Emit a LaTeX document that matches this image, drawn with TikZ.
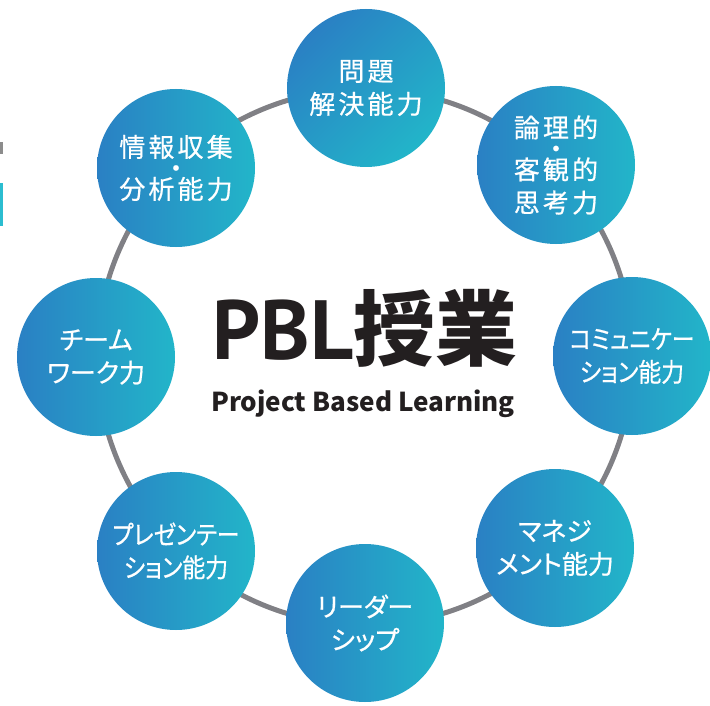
\documentclass[tikz,border=0pt]{standalone}
\usepackage{fontspec}
\newfontfamily\jpt[LetterSpace=12,FakeBold=0.6]{Noto Sans CJK JP}
\newfontfamily\jpp[RawFeature=+palt,FakeBold=0.6]{Noto Sans CJK JP}
\newfontfamily\jpb{Noto Sans CJK JP}
\newfontfamily\latb{PT Sans}
\newcommand{\kj}[1]{{\jpt #1}}
\newcommand{\kn}[1]{{\jpp #1}}
\newcommand{\knq}[1]{\scalebox{0.88}[1]{\jpp #1}}
\definecolor{cblue}{HTML}{2A80C4}
\definecolor{cteal}{HTML}{22B5C9}
\definecolor{ringgray}{HTML}{808085}
\definecolor{inkdark}{HTML}{231F20}
\definecolor{markteal}{HTML}{2BBDD0}
\tikzset{
  skill/.style={circle, minimum size=158pt, inner sep=0pt, left color=cblue, right color=cteal,
    text=white, align=center, font=\jpt\fontsize{26}{33}\selectfont},
  skilldiag/.style={skill, shading=axis, top color=cteal, bottom color=cblue, shading angle=45},
}
\begin{document}
\begin{tikzpicture}[x=1pt,y=-1pt]
\useasboundingbox (0,0) rectangle (710,706);
\fill[white] (0,0) rectangle (710,706);
% left edge marks
\fill[gray!90] (0,142) rectangle (2.5,154);
\fill[markteal] (0,183) rectangle (3,226);
% ring
\coordinate (c) at (365,357);
\draw[ringgray, line width=5pt] (c) circle[radius=268pt];
% skill circles
\node[skilldiag, shading angle=225] (s1) at (366,88) {\kj{問題}\\\kj{解決能力}};
\node[skill] (s2) at (556,165) {\kj{論理的}\\[-12pt]・\\[-12pt]\kj{客観的}\\\kj{思考力}};
\node[skill] (s3) at (632,356) {\knq{コミュニケー}\\\knq{ション能力}};
\node[skill] (s4) at (555,548) {\kn{マネジ}\\\kn{メント能力}};
\node[skill] (s5) at (365,623) {\kn{リーダー}\\\kn{シップ}};
\node[skill] (s6) at (176,551) {\knq{プレゼンテー}\\\knq{ション能力}};
\node[skill] (s7) at (96,357) {\kn{チーム}\\\kn{ワーク力}};
\node[skill] (s8) at (176,168) {\kj{情報収集}\\[-12pt]・\\[-12pt]\kj{分析能力}};
% center title
\node[text=inkdark, inner sep=0pt] (title) at (365,328)
  {{\latb\bfseries\fontsize{84}{84}\selectfont PBL}{\jpb\bfseries\fontsize{82}{84}\selectfont 授業}};
\node[font=\jpb\bfseries\fontsize{26}{26}\selectfont, text=inkdark, inner sep=0pt] (sub) at (363,404) {Project Based Learning};
\end{tikzpicture}
\end{document}
